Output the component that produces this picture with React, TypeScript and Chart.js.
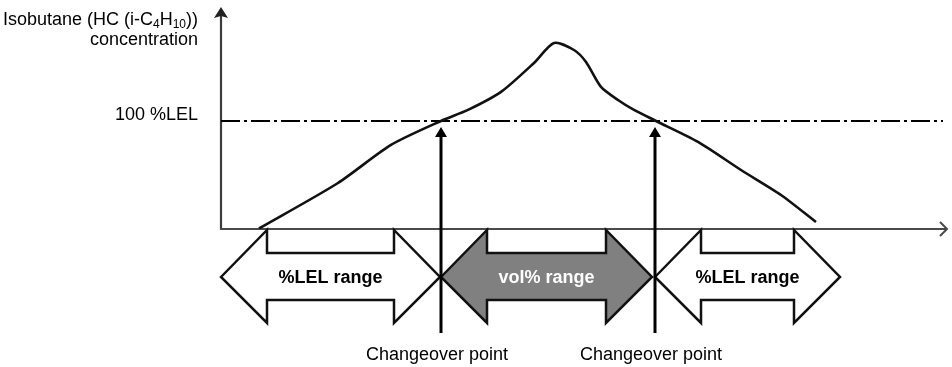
import React, { useEffect, useRef } from "react";
import { Chart, registerables } from "chart.js";

Chart.register(...registerables);

// ---- data (x: time-like units, y: concentration, 100 = 100 %LEL) ----
const curveX = [3.8, 11.7, 17.0, 22.0, 24.7, 28.0, 31.3, 33.3, 35.3, 36.5, 38.0, 39.7, 41.3, 43.5, 47.7, 52.0, 56.0, 59.5];
const curveY = [0.5, 42.6, 77.8, 100, 110.2, 126.9, 153.7, 172.2, 165.7, 154.6, 131.5, 119.4, 110.2, 100, 80.6, 54.6, 31.5, 6.5];
const lelLevel = 100;
const lelLineEnd = 72.2;
const lelLabel = "100 %LEL";
const changeoverX = [22.0, 43.4];
const changeoverLabel = "Changeover point";
const rangeStart = [0.0, 22.0, 43.4];
const rangeEnd = [21.9, 43.1, 61.9];
const rangeLabels = ["%LEL range", "vol% range", "%LEL range"];
const rangeFilled = [false, true, false];
const yTitleLine1: [string, boolean][] = [
  ["Isobutane (HC (i-C", false],
  ["4", true],
  ["H", false],
  ["10", true],
  ["))", false],
];
const yTitleLine2 = "concentration";
const X_MAX = 72.7;
const Y_MAX = 205.5;

const FONT = "'Liberation Sans', Arial, sans-serif";

const diagramPlugin = {
  id: "diagram",
  beforeDatasetsDraw(chart: any) {
    const { ctx } = chart;
    const xs = chart.scales.x;
    const ys = chart.scales.y;
    const x0 = xs.getPixelForValue(0);
    const y0 = ys.getPixelForValue(0);
    const xEnd = xs.getPixelForValue(X_MAX);
    const yTop = ys.getPixelForValue(Y_MAX);
    ctx.save();
    ctx.strokeStyle = "#3c3c3c";
    ctx.lineWidth = 2.2;
    // vertical axis
    ctx.beginPath();
    ctx.moveTo(x0, y0 + 1);
    ctx.lineTo(x0, yTop + 6);
    ctx.stroke();
    ctx.fillStyle = "#222";
    ctx.beginPath();
    ctx.moveTo(x0, yTop);
    ctx.lineTo(x0 - 7, yTop + 11);
    ctx.lineTo(x0, yTop + 9);
    ctx.lineTo(x0 + 7, yTop + 11);
    ctx.closePath();
    ctx.fill();
    // horizontal axis
    ctx.strokeStyle = "#4a4a4a";
    ctx.lineWidth = 2;
    ctx.beginPath();
    ctx.moveTo(x0 - 1, y0);
    ctx.lineTo(xEnd - 1, y0);
    ctx.stroke();
    ctx.beginPath();
    ctx.moveTo(xEnd - 8, y0 - 7);
    ctx.lineTo(xEnd - 1, y0);
    ctx.lineTo(xEnd - 8, y0 + 7);
    ctx.stroke();
    ctx.restore();
  },
  afterDatasetsDraw(chart: any) {
    const { ctx } = chart;
    const xs = chart.scales.x;
    const ys = chart.scales.y;
    const y0 = ys.getPixelForValue(0);
    const yLel = ys.getPixelForValue(lelLevel);
    const x0 = xs.getPixelForValue(0);
    ctx.save();

    // left labels
    const labelRight = x0 - 23;
    const mainFont = `18px ${FONT}`;
    const subFont = `12px ${FONT}`;
    ctx.fillStyle = "#000";
    ctx.textBaseline = "alphabetic";
    let total = 0;
    const widths: number[] = [];
    yTitleLine1.forEach(([t, sub]) => {
      ctx.font = sub ? subFont : mainFont;
      const w = ctx.measureText(t).width;
      widths.push(w);
      total += w;
    });
    let cx = labelRight - total;
    ctx.textAlign = "left";
    yTitleLine1.forEach(([t, sub], i) => {
      ctx.font = sub ? subFont : mainFont;
      ctx.fillText(t, cx, sub ? 28 : 25);
      cx += widths[i];
    });
    ctx.font = mainFont;
    ctx.textAlign = "right";
    ctx.fillText(yTitleLine2, labelRight, 45);
    ctx.fillText(lelLabel, labelRight, yLel - 1);

    // double arrows (ranges)
    const aTop = y0 + 1;
    const sTop = y0 + 24;
    const mid = y0 + 48;
    const sBot = y0 + 71;
    const aBot = y0 + 94;
    const head = 46;
    rangeStart.forEach((s, i) => {
      const l = xs.getPixelForValue(s);
      const r = xs.getPixelForValue(rangeEnd[i]);
      ctx.beginPath();
      ctx.moveTo(l, mid);
      ctx.lineTo(l + head, aTop);
      ctx.lineTo(l + head, sTop);
      ctx.lineTo(r - head, sTop);
      ctx.lineTo(r - head, aTop);
      ctx.lineTo(r, mid);
      ctx.lineTo(r - head, aBot);
      ctx.lineTo(r - head, sBot);
      ctx.lineTo(l + head, sBot);
      ctx.lineTo(l + head, aBot);
      ctx.closePath();
      ctx.fillStyle = rangeFilled[i] ? "#808080" : "#ffffff";
      ctx.fill();
      ctx.lineWidth = 2.5;
      ctx.lineJoin = "miter";
      ctx.strokeStyle = "#111";
      ctx.stroke();
      ctx.font = `bold 18px ${FONT}`;
      ctx.textAlign = "center";
      ctx.fillStyle = rangeFilled[i] ? "#ffffff" : "#000000";
      ctx.fillText(rangeLabels[i], (l + r) / 2, mid + 6);
    });

    // changeover arrows
    changeoverX.forEach((v) => {
      const px = xs.getPixelForValue(v);
      const tip = yLel + 6;
      ctx.strokeStyle = "#000";
      ctx.lineWidth = 3;
      ctx.beginPath();
      ctx.moveTo(px, y0 + 104);
      ctx.lineTo(px, tip + 8);
      ctx.stroke();
      ctx.fillStyle = "#000";
      ctx.beginPath();
      ctx.moveTo(px, tip);
      ctx.lineTo(px - 6, tip + 10);
      ctx.lineTo(px + 6, tip + 10);
      ctx.closePath();
      ctx.fill();
      ctx.font = `18px ${FONT}`;
      ctx.textAlign = "center";
      ctx.fillText(changeoverLabel, px - 4, y0 + 131);
    });
    ctx.restore();
  },
};

export default function App() {
  const ref = useRef<HTMLCanvasElement | null>(null);
  useEffect(() => {
    if (!ref.current) return;
    const chart = new Chart(ref.current, {
      type: "line",
      data: {
        datasets: [
          {
            data: curveX.map((x, i) => ({ x, y: curveY[i] })),
            borderColor: "#111",
            borderWidth: 2.6,
            pointRadius: 0,
            tension: 0.25,
            fill: false,
          },
          {
            data: [
              { x: 0, y: lelLevel },
              { x: lelLineEnd, y: lelLevel },
            ],
            borderColor: "#000",
            borderWidth: 2,
            borderDash: [19, 4, 3, 4],
            pointRadius: 0,
            fill: false,
          },
        ],
      },
      options: {
        responsive: false,
        animation: false,
        devicePixelRatio: 1,
        layout: { padding: { left: 221, right: 952 - 221 - X_MAX * 10, top: 7, bottom: 138 } },
        scales: {
          x: { type: "linear", min: 0, max: X_MAX, display: false },
          y: { type: "linear", min: 0, max: Y_MAX, display: false },
        },
        plugins: {
          legend: { display: false },
          tooltip: { enabled: false },
        },
      } as any,
      plugins: [diagramPlugin],
    });
    return () => chart.destroy();
  }, []);
  return (
    <div style={{ position: "absolute", left: 0, top: 0, width: 952, height: 367, background: "#fff" }}>
      <canvas ref={ref} width={952} height={367} style={{ display: "block" }} />
    </div>
  );
}
